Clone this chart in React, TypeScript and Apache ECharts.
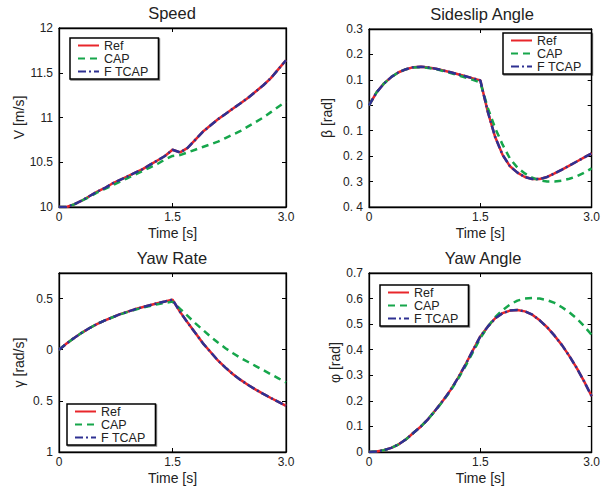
import React, { useEffect, useRef } from "react";
import * as echarts from "echarts";

const time = [0, 0.1, 0.2, 0.3, 0.4, 0.5, 0.6, 0.7, 0.8, 0.9, 1.0, 1.1, 1.2, 1.3, 1.4, 1.5, 1.6, 1.7, 1.8, 1.9, 2.0, 2.1, 2.2, 2.3, 2.4, 2.5, 2.6, 2.7, 2.8, 2.9, 3.0];

const seriesNames = ["Ref", "CAP", "F TCAP"];

const speedRef = [10.0, 10.0, 10.03, 10.07, 10.12, 10.17, 10.21, 10.26, 10.3, 10.34, 10.38, 10.42, 10.47, 10.52, 10.57, 10.64, 10.61, 10.66, 10.75, 10.84, 10.91, 10.98, 11.04, 11.1, 11.16, 11.22, 11.29, 11.36, 11.44, 11.54, 11.64];
const speedCap = [10.0, 10.0, 10.03, 10.07, 10.11, 10.16, 10.2, 10.24, 10.28, 10.32, 10.36, 10.4, 10.44, 10.48, 10.53, 10.57, 10.58, 10.61, 10.64, 10.67, 10.7, 10.73, 10.77, 10.81, 10.85, 10.9, 10.95, 11.0, 11.06, 11.12, 11.18];
const speedFtcap = [10.0, 10.0, 10.03, 10.07, 10.12, 10.17, 10.21, 10.26, 10.3, 10.34, 10.38, 10.42, 10.47, 10.52, 10.57, 10.64, 10.61, 10.66, 10.75, 10.84, 10.91, 10.98, 11.04, 11.1, 11.16, 11.22, 11.29, 11.36, 11.44, 11.54, 11.64];

const sideslipRef = [0, 0.05, 0.085, 0.111, 0.13, 0.142, 0.15, 0.152, 0.149, 0.144, 0.137, 0.13, 0.122, 0.114, 0.106, 0.098, -0.025, -0.125, -0.195, -0.24, -0.265, -0.282, -0.29, -0.29, -0.282, -0.268, -0.253, -0.237, -0.221, -0.205, -0.189];
const sideslipCap = [0, 0.05, 0.085, 0.111, 0.13, 0.142, 0.149, 0.15, 0.147, 0.142, 0.135, 0.127, 0.118, 0.109, 0.1, 0.09, -0.01, -0.09, -0.155, -0.21, -0.245, -0.268, -0.285, -0.295, -0.3, -0.3, -0.296, -0.289, -0.279, -0.265, -0.248];
const sideslipFtcap = [0, 0.05, 0.085, 0.111, 0.13, 0.142, 0.15, 0.152, 0.149, 0.144, 0.137, 0.13, 0.122, 0.114, 0.106, 0.098, -0.025, -0.125, -0.195, -0.24, -0.265, -0.282, -0.29, -0.29, -0.282, -0.268, -0.253, -0.237, -0.221, -0.205, -0.189];

const yawRateRef = [0, 0.06, 0.115, 0.165, 0.21, 0.25, 0.285, 0.315, 0.345, 0.37, 0.395, 0.415, 0.435, 0.455, 0.472, 0.49, 0.37, 0.265, 0.165, 0.065, -0.02, -0.105, -0.175, -0.24, -0.295, -0.345, -0.39, -0.432, -0.472, -0.51, -0.548];
const yawRateCap = [0, 0.06, 0.115, 0.165, 0.21, 0.25, 0.285, 0.315, 0.343, 0.367, 0.39, 0.41, 0.428, 0.445, 0.458, 0.47, 0.4, 0.33, 0.26, 0.195, 0.13, 0.07, 0.015, -0.035, -0.08, -0.12, -0.16, -0.2, -0.24, -0.28, -0.32];
const yawRateFtcap = [0, 0.06, 0.115, 0.165, 0.21, 0.25, 0.285, 0.315, 0.345, 0.37, 0.395, 0.415, 0.435, 0.455, 0.472, 0.49, 0.37, 0.265, 0.165, 0.065, -0.02, -0.105, -0.175, -0.24, -0.295, -0.345, -0.39, -0.432, -0.472, -0.51, -0.548];

const yawAngleRef = [0, 0.002, 0.007, 0.016, 0.03, 0.05, 0.075, 0.1, 0.13, 0.165, 0.202, 0.243, 0.29, 0.342, 0.398, 0.452, 0.49, 0.523, 0.543, 0.553, 0.555, 0.55, 0.537, 0.515, 0.488, 0.455, 0.418, 0.375, 0.328, 0.275, 0.218];
const yawAngleCap = [0, 0.002, 0.007, 0.016, 0.03, 0.05, 0.075, 0.1, 0.13, 0.164, 0.2, 0.24, 0.286, 0.336, 0.39, 0.445, 0.49, 0.527, 0.555, 0.577, 0.592, 0.6, 0.602, 0.6, 0.594, 0.583, 0.566, 0.546, 0.522, 0.492, 0.458];
const yawAngleFtcap = [0, 0.002, 0.007, 0.016, 0.03, 0.05, 0.075, 0.1, 0.13, 0.165, 0.202, 0.243, 0.29, 0.342, 0.398, 0.452, 0.49, 0.523, 0.543, 0.553, 0.555, 0.55, 0.537, 0.515, 0.488, 0.455, 0.418, 0.375, 0.328, 0.275, 0.218];

const xTickLabels: Record<string, string> = { "0": "0", "1.5": "1.5", "3": "3.0" };
const speedTickLabels: Record<string, string> = { "10": "10", "10.5": "10.5", "11": "11", "11.5": "11.5", "12": "12" };
const sideslipTickLabels: Record<string, string> = { "0.3": "0.3", "0.2": "0.2", "0.1": "0.1", "0": "0", "-0.1": "0. 1", "-0.2": "0. 2", "-0.3": "0. 3", "-0.4": "0. 4" };
const yawRateTickLabels: Record<string, string> = { "0.5": "0.5", "0": "0", "-0.5": "0. 5", "-1": "1" };
const yawAngleTickLabels: Record<string, string> = { "0": "0", "0.1": "0.1", "0.2": "0.2", "0.3": "0.3", "0.4": "0.4", "0.5": "0.5", "0.6": "0.6", "0.7": "0.7" };

const FONT = "'Liberation Sans', Arial, Helvetica, sans-serif";
const TEXT = "#222";
const COLORS = ["#e8262b", "#16a64b", "#2e3192"];
const DASHES: any[] = ["solid", [7, 5], [8, 3, 2, 3]];

const key = (v: number) => String(Math.round(v * 1000) / 1000);

type Panel = {
  title: string;
  yName: string;
  yMin: number;
  yMax: number;
  yInterval: number;
  yLabels: Record<string, string>;
  nameGap: number;
  grid: { left: number; top: number; width: number; height: number };
  titlePos: { x: number; y: number };
  legendPos: { left: number; top: number };
  data: number[][];
};

const panels: Panel[] = [
  {
    title: "Speed", yName: "V [m/s]", yMin: 10, yMax: 12, yInterval: 0.5, yLabels: speedTickLabels, nameGap: 33,
    grid: { left: 59, top: 28, width: 227, height: 179 }, titlePos: { x: 172, y: 4 }, legendPos: { left: 70, top: 38 },
    data: [speedRef, speedCap, speedFtcap],
  },
  {
    title: "Sideslip Angle", yName: "β [rad]", yMin: -0.4, yMax: 0.3, yInterval: 0.1, yLabels: sideslipTickLabels, nameGap: 35,
    grid: { left: 369, top: 29, width: 227, height: 178 }, titlePos: { x: 482, y: 5 }, legendPos: { left: 503, top: 33 },
    data: [sideslipRef, sideslipCap, sideslipFtcap],
  },
  {
    title: "Yaw Rate", yName: "γ [rad/s]", yMin: -1, yMax: 0.75, yInterval: 0.5, yLabels: yawRateTickLabels, nameGap: 33,
    grid: { left: 59, top: 273, width: 227, height: 179 }, titlePos: { x: 172, y: 249 }, legendPos: { left: 67, top: 404 },
    data: [yawRateRef, yawRateCap, yawRateFtcap],
  },
  {
    title: "Yaw Angle", yName: "φ [rad]", yMin: 0, yMax: 0.7, yInterval: 0.1, yLabels: yawAngleTickLabels, nameGap: 27,
    grid: { left: 369, top: 273, width: 227, height: 179 }, titlePos: { x: 483, y: 249 }, legendPos: { left: 380, top: 285 },
    data: [yawAngleRef, yawAngleCap, yawAngleFtcap],
  },
];

function buildOption() {
  const title: any[] = [];
  const grid: any[] = [];
  const xAxis: any[] = [];
  const yAxis: any[] = [];
  const legend: any[] = [];
  const series: any[] = [];

  panels.forEach((p, i) => {
    title.push({
      text: p.title,
      left: p.titlePos.x,
      top: p.titlePos.y,
      textAlign: "center",
      padding: 0,
      textStyle: { fontFamily: FONT, fontSize: 16.5, fontWeight: "normal", color: TEXT },
    });
    grid.push({ ...p.grid, show: true, borderColor: "#000", borderWidth: 1, backgroundColor: "#fff" });

    const axisCommon = {
      axisLine: { show: true, onZero: false, lineStyle: { color: "#000", width: 1.3 } },
      axisTick: { show: true, inside: true, length: 4, lineStyle: { color: "#000", width: 1 } },
      splitLine: { show: false },
    };
    xAxis.push({
      type: "value", gridIndex: i, position: "bottom", min: 0, max: 3, interval: 1.5,
      name: "Time [s]", nameLocation: "middle", nameGap: 19,
      nameTextStyle: { fontFamily: FONT, fontSize: 14, fontWeight: "normal", color: TEXT },
      axisLabel: { fontFamily: FONT, fontSize: 12, color: TEXT, margin: 4, formatter: (v: number) => xTickLabels[key(v)] ?? "" },
      ...axisCommon,
    });
    xAxis.push({
      type: "value", gridIndex: i, position: "top", min: 0, max: 3, interval: 1.5,
      axisLabel: { show: false }, ...axisCommon,
    });
    yAxis.push({
      type: "value", gridIndex: i, position: "left", min: p.yMin, max: p.yMax, interval: p.yInterval,
      name: p.yName, nameLocation: "middle", nameGap: p.nameGap,
      nameTextStyle: { fontFamily: FONT, fontSize: 14, fontWeight: "normal", color: TEXT },
      axisLabel: { fontFamily: FONT, fontSize: 12, color: TEXT, margin: 6, formatter: (v: number) => p.yLabels[key(v)] ?? "" },
      ...axisCommon,
    });
    yAxis.push({
      type: "value", gridIndex: i, position: "right", min: p.yMin, max: p.yMax, interval: p.yInterval,
      axisLabel: { show: false }, ...axisCommon,
    });

    legend.push({
      data: seriesNames,
      orient: "vertical",
      left: p.legendPos.left,
      top: p.legendPos.top,
      itemWidth: 21,
      itemHeight: 14,
      itemGap: 0,
      padding: [1, 10, 1, 7],
      backgroundColor: "#fff",
      borderColor: "#000",
      borderWidth: 1.5,
      shadowColor: "rgba(0,0,0,0.5)",
      shadowOffsetX: 1,
      shadowOffsetY: 1,
      shadowBlur: 0,
      itemStyle: { opacity: 0 },
      textStyle: { fontFamily: FONT, fontSize: 12.5, fontWeight: "normal", color: TEXT },
    });

    seriesNames.forEach((name, s) => {
      series.push({
        type: "line",
        name,
        xAxisIndex: 2 * i,
        yAxisIndex: 2 * i,
        symbol: "none",
        showSymbol: false,
        smooth: false,
        z: 2 + s,
        lineStyle: { color: COLORS[s], width: 2.5, type: DASHES[s] },
        itemStyle: { color: COLORS[s] },
        data: time.map((t, k) => [t, p.data[s][k]]),
      });
    });
  });

  return { animation: false, backgroundColor: "#fff", title, grid, xAxis, yAxis, legend, series };
}

export default function App() {
  const ref = useRef<HTMLDivElement>(null);
  useEffect(() => {
    document.body.style.margin = "0";
    if (!ref.current) return;
    const chart = echarts.init(ref.current, undefined, { renderer: "svg" });
    chart.setOption(buildOption() as any);
    return () => chart.dispose();
  }, []);
  return <div ref={ref} style={{ width: 603, height: 488 }} />;
}
